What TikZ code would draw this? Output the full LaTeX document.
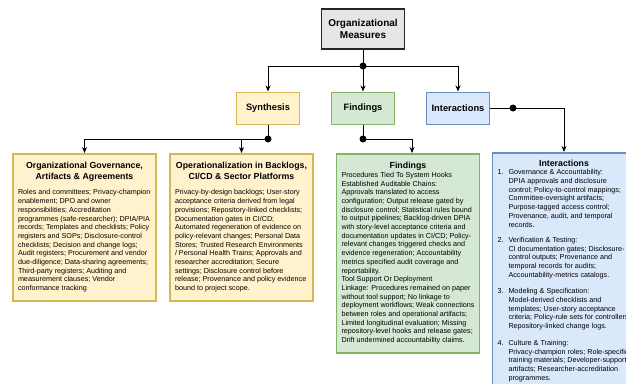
\documentclass[tikz,border=0pt]{standalone}
\usepackage{fontspec}
\setmainfont{Liberation Sans}
\usetikzlibrary{arrows.meta}
\definecolor{synfill}{HTML}{FFF2CC}
\definecolor{synline}{HTML}{D6B656}
\definecolor{findfill}{HTML}{D5E8D4}
\definecolor{findline}{HTML}{82B366}
\definecolor{interfill}{HTML}{DAE8FC}
\definecolor{interline}{HTML}{6C8EBF}
\definecolor{rootfill}{HTML}{E6E6E6}
\newcommand{\bodysize}{\fontsize{7.2}{8.7}\selectfont}
\newcommand{\cardtitle}[1]{{\centering\bfseries\fontsize{8.8}{10.6}\selectfont #1\par}}
\newcommand{\listitem}[2]{\noindent\makebox[11pt][l]{#1}\parbox[t]{150pt}{\raggedright #2}\par}

\begin{document}
\begin{tikzpicture}[x=1pt,y=-1pt]
	\tikzstyle{every node}+=[inner sep=0pt]
	\tikzstyle{root}=[draw=black!85,line width=1.5pt,fill=rootfill,minimum width=83pt,minimum height=40pt,align=center,font=\bfseries\fontsize{10}{11.7}\selectfont]
	\tikzstyle{head}=[line width=1pt,minimum width=63pt,minimum height=32pt,font=\bfseries\fontsize{9.3}{11}\selectfont]
	\tikzstyle{card}=[line width=1.5pt,anchor=north,text width=133pt,inner xsep=5pt,inner ysep=4pt,align=flush left,font=\bodysize]
	\tikzstyle{link}=[line width=1pt,-{Stealth[length=6pt,width=5pt]}]
	\tikzstyle{joint}=[line width=1pt]
	\useasboundingbox (0,0) rectangle (626,383);
	\node[root] (measures) at (363,29) {Organizational\\Measures};
	\node[head,draw=synline,fill=synfill] (synth) at (268,108) {Synthesis};
	\node[head,draw=findline,fill=findfill] (find) at (363,108) {Findings};
	\node[head,draw=interline,fill=interfill] (inter) at (458,108) {Interactions};
	\coordinate (mdot) at (363,66);
	\coordinate (sdot) at (268,139);
	\coordinate (fdot) at (363,139);
	\coordinate (idot) at (513,108);
	\node[card,draw=synline,fill=synfill,minimum height=147pt] (govcard) at (84.5,153) {%
		\cardtitle{Organizational Governance,\\Artifacts \& Agreements}\vspace{7pt}
		Roles and committees; Privacy-champion\\
		enablement; DPO and owner\\
		responsibilities; Accreditation\\
		programmes (safe-researcher); DPIA/PIA\\
		records; Templates and checklists; Policy\\
		registers and SOPs; Disclosure-control\\
		checklists; Decision and change logs;\\
		Audit registers; Procurement and vendor\\
		due-diligence; Data-sharing agreements;\\
		Third-party registers; Auditing and\\
		measurement clauses; Vendor\\
		conformance tracking};
	\node[card,draw=synline,fill=synfill,minimum height=147pt] (opcard) at (241.5,153) {%
		\cardtitle{Operationalization in Backlogs,\\CI/CD \& Sector Platforms}\vspace{7pt}
		Privacy-by-design backlogs; User-story\\
		acceptance criteria derived from legal\\
		provisions; Repository-linked checklists;\\
		Documentation gates in CI/CD;\\
		Automated regeneration of evidence on\\
		policy-relevant changes; Personal Data\\
		Stores; Trusted Research Environments\\
		/ Personal Health Trains; Approvals and\\
		researcher accreditation; Secure\\
		settings; Disclosure control before\\
		release; Provenance and policy evidence\\
		bound to project scope.};
	\node[card,draw=findline,fill=findfill,minimum height=199pt] (findcard) at (408,153) {%
		\cardtitle{Findings}
		Procedures Tied To System Hooks\\
		Established Auditable Chains:\\
		Approvals translated to access\\
		configuration; Output release gated by\\
		disclosure control; Statistical rules bound\\
		to output pipelines; Backlog-driven DPIA\\
		with story-level acceptance criteria and\\
		documentation updates in CI/CD; Policy-\\
		relevant changes triggered checks and\\
		evidence regeneration; Accountability\\
		metrics specified audit coverage and\\
		reportability.\\
		Tool Support Or Deployment\\
		Linkage: Procedures remained on paper\\
		without tool support; No linkage to\\
		deployment workflows; Weak connections\\
		between roles and operational artifacts;\\
		Limited longitudinal evaluation; Missing\\
		repository-level hooks and release gates;\\
		Drift undermined accountability claims.};
	\node[card,draw=interline,fill=interfill,inner ysep=7pt] (intercard) at (564,152) {%
		\cardtitle{Interactions}
		\listitem{1.}{Governance \& Accountability:\\
			DPIA approvals and disclosure\\
			control; Policy-to-control mappings;\\
			Committee-oversight artifacts;\\
			Purpose-tagged access control;\\
			Provenance, audit, and temporal\\
			records.}\vspace{9pt}
		\listitem{2.}{Verification \& Testing:\\
			CI documentation gates; Disclosure-\\
			control outputs; Provenance and\\
			temporal records for audits;\\
			Accountability-metrics catalogs.}\vspace{9pt}
		\listitem{3.}{Modeling \& Specification:\\
			Model-derived checklists and\\
			templates; User-story acceptance\\
			criteria; Policy-rule sets for controllers;\\
			Repository-linked change logs.}\vspace{9pt}
		\listitem{4.}{Culture \& Training:\\
			Privacy-champion roles; Role-specific\\
			training materials; Developer-support\\
			artifacts; Researcher-accreditation\\
			programmes.}};
	\draw[joint] (measures) -- (mdot);
	\draw[link] (mdot) -| (synth);
	\draw[link] (mdot) -- (find);
	\draw[link] (mdot) -| (inter);
	\draw[joint] (synth) -- (sdot);
	\draw[link] (sdot) -| (govcard);
	\draw[link] (sdot) -| (opcard);
	\draw[joint] (find) -- (fdot);
	\draw[link] (fdot) -| ([xshift=4pt]findcard.north);
	\draw[joint] (inter) -- (idot);
	\draw[link] (idot) -| (intercard);
	\foreach \d in {mdot,sdot,fdot,idot}
		\fill (\d) circle (3.5);
\end{tikzpicture}
\end{document}
